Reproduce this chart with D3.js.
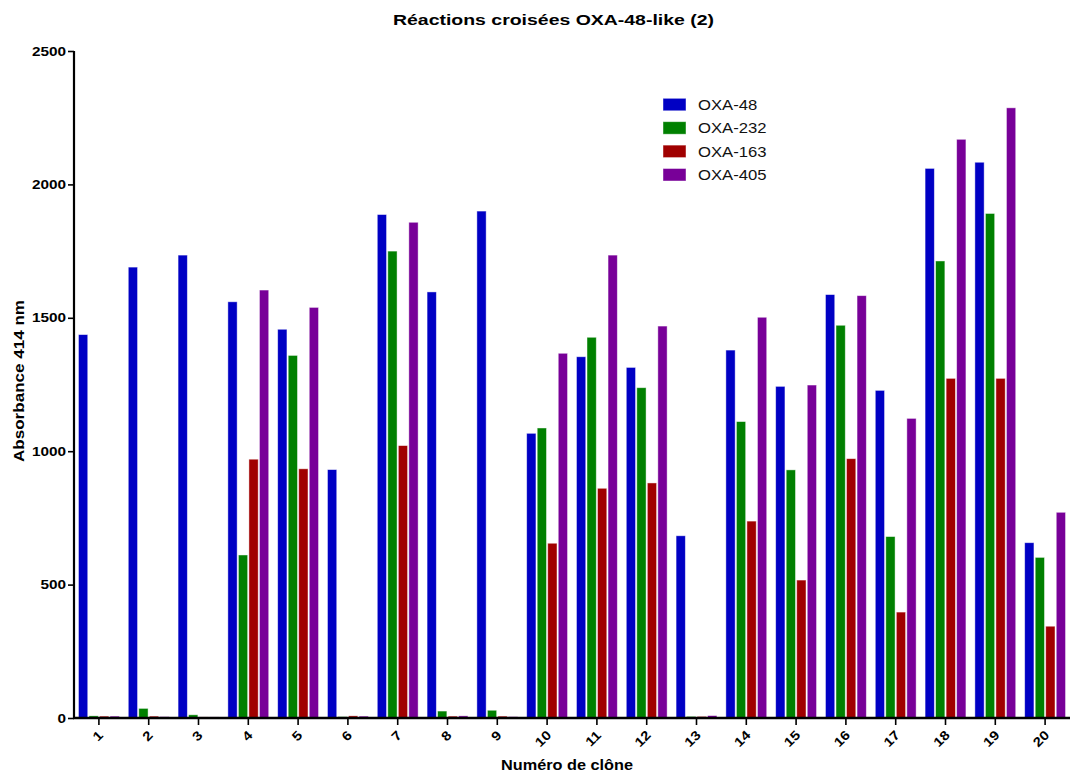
<!DOCTYPE html>
<html>
<head>
<meta charset="utf-8">
<script src="https://cdn.jsdelivr.net/npm/d3@7"></script>
<style>
  body { margin: 0; background: #fff; }
  svg { display: block; font-family: Arial, "Liberation Sans", sans-serif; }
</style>
</head>
<body>
<svg id="chart" width="1072" height="773"></svg>
<script>
const categories = ["1","2","3","4","5","6","7","8","9","10","11","12","13","14","15","16","17","18","19","20"];
const seriesNames = ["OXA-48","OXA-232","OXA-163","OXA-405"];
const oxa48  = [1437, 1690, 1735, 1560, 1457, 931, 1887, 1597, 1900, 1067, 1354, 1314, 683, 1379, 1243, 1587, 1228, 2060, 2083, 657];
const oxa232 = [8, 36, 12, 611, 1359, 5, 1750, 26, 29, 1087, 1427, 1238, 6, 1111, 930, 1472, 680, 1713, 1891, 602];
const oxa163 = [7, 7, 4, 970, 934, 8, 1021, 7, 7, 655, 861, 881, 6, 738, 517, 972, 397, 1273, 1273, 344];
const oxa405 = [7, 5, 4, 1604, 1539, 7, 1858, 8, 5, 1367, 1735, 1469, 9, 1502, 1248, 1583, 1123, 2169, 2287, 771];
const yTicks = [0, 500, 1000, 1500, 2000, 2500];
const colors = ["#0000c4", "#008000", "#a00000", "#780098"];

const seriesValues = [oxa48, oxa232, oxa163, oxa405];
const svg = d3.select("#chart");

function stretch(sel, f) {
  sel.each(function() {
    const len = this.getComputedTextLength();
    d3.select(this).attr("textLength", len * f).attr("lengthAdjust", "spacingAndGlyphs");
  });
}

const x0 = d3.scaleBand().domain(categories).range([74, 1070]).paddingInner(0.18).paddingOuter(0.09);
const x1 = d3.scaleBand().domain(d3.range(seriesNames.length)).range([0, x0.bandwidth()]).paddingInner(0.12);
const y = d3.scaleLinear().domain([0, 2500]).range([718, 51]);

// bars
const groups = svg.append("g").selectAll("g").data(categories).join("g")
  .attr("transform", d => `translate(${x0(d)},0)`);
groups.selectAll("rect")
  .data((c, ci) => seriesValues.map((vals, si) => ({si, v: vals[ci]})))
  .join("rect")
  .attr("x", d => x1(d.si))
  .attr("width", x1.bandwidth())
  .attr("y", d => y(d.v))
  .attr("height", d => y(0) - y(d.v))
  .attr("fill", d => colors[d.si])
  .attr("stroke", "#ffffff").attr("stroke-opacity", 0.55).attr("stroke-width", 0.8);

// y axis
const yAxis = svg.append("g").attr("transform", "translate(74,0)")
  .call(d3.axisLeft(y).tickValues(yTicks).tickSize(6).tickPadding(2).tickFormat(d3.format("d")));
yAxis.select(".domain").attr("stroke", "#000").attr("stroke-width", 2.2).attr("d", "M0,51V718");
yAxis.selectAll(".tick line").attr("stroke", "#000").attr("stroke-width", 1.6);
yAxis.selectAll(".tick text").attr("font-size", 13).attr("font-weight", "bold").attr("fill", "#000");
stretch(yAxis.selectAll(".tick text"), 1.18);

// x axis
const xAxis = svg.append("g").attr("transform", "translate(0,718)")
  .call(d3.axisBottom(x0).tickSize(7).tickSizeOuter(0));
xAxis.select(".domain").attr("stroke", "#000").attr("stroke-width", 2.4).attr("d", "M73,0H1070");
xAxis.selectAll(".tick line").attr("stroke", "#000").attr("stroke-width", 1.6);
xAxis.selectAll(".tick text")
  .attr("font-size", 13).attr("font-weight", "bold").attr("fill", "#000")
  .attr("text-anchor", "end").attr("dy", null).attr("y", 0)
  .attr("transform", "translate(5,18) rotate(-45)");
stretch(xAxis.selectAll(".tick text"), 1.15);

// titles
const title = svg.append("text").attr("x", 553.5).attr("y", 25).attr("text-anchor", "middle")
  .attr("font-size", 15.5).attr("font-weight", "bold").text("Réactions croisées OXA-48-like (2)");
title.attr("textLength", 321).attr("lengthAdjust", "spacingAndGlyphs");
const xt = svg.append("text").attr("x", 567).attr("y", 770).attr("text-anchor", "middle")
  .attr("font-size", 15).attr("font-weight", "bold").text("Numéro de clône");
xt.attr("textLength", 132).attr("lengthAdjust", "spacingAndGlyphs");
const yt = svg.append("text").attr("transform", "translate(24,381) rotate(-90)").attr("text-anchor", "middle")
  .attr("font-size", 14.5).attr("font-weight", "bold").text("Absorbance 414 nm");
yt.attr("textLength", 162).attr("lengthAdjust", "spacingAndGlyphs");

// legend
const legend = svg.append("g");
seriesNames.forEach((name, i) => {
  const yy = 98.3 + i * 23.4;
  legend.append("rect").attr("x", 663).attr("y", yy).attr("width", 23).attr("height", 12.5)
    .attr("fill", colors[i]).attr("stroke", "#fff").attr("stroke-opacity", 0.55).attr("stroke-width", 0.8);
  const t = legend.append("text").attr("x", 698).attr("y", yy + 11.5).attr("font-size", 15).attr("fill", "#111").text(name);
  stretch(t, 1.11);
});
</script>
</body>
</html>
